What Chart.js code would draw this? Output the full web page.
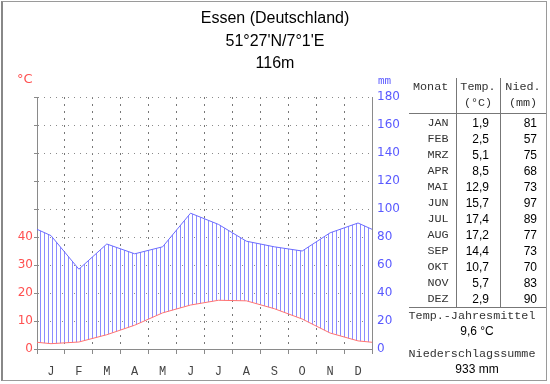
<!DOCTYPE html>
<html>
<head>
<meta charset="utf-8">
<script src="https://cdn.jsdelivr.net/npm/chart.js@4"></script>
<style>
  body { margin: 0; background: #fff; }
  #wrap { position: relative; width: 550px; height: 384px; overflow: hidden; }
  #frame { position: absolute; left: 1px; top: 1px; width: 543px; height: 378px;
           border: 1px solid #9a9a9a; border-left: 2px solid #888; }
  canvas { position: absolute; left: 0; top: 0; }
  .t { position: absolute; white-space: nowrap; line-height: 16px; }
  .title { left: 0; width: 550px; text-align: center; font: 16px "Liberation Sans", Arial, sans-serif; color: #000; line-height: 22px; }
  .mono { font: 11.75px "Liberation Mono", monospace; color: #333; }
  .num { font: 12px "Liberation Sans", Arial, sans-serif; color: #000; }
  .hl { position: absolute; height: 1px; background: #777; }
  .vl { position: absolute; width: 1px; background: #777; }
</style>
</head>
<body>
<div id="wrap">
  <div id="frame"></div>
  <canvas id="climate" width="550" height="384"></canvas>
  <div class="t title" style="top:7px">Essen (Deutschland)</div>
  <div class="t title" style="top:30px">51°27'N/7°1'E</div>
  <div class="t title" style="top:52px">116m</div>
  <div class="t" style="left:17px;top:71px;font:13px 'DejaVu Sans',sans-serif;color:#ff5050">°C</div>
  <div class="t" style="left:378px;top:75px;font:11px 'Liberation Mono',monospace;color:#5a5aff">mm</div>
  <div id="table"></div>
</div>
<script>
//Chart data
const monthLetters = ['J', 'F', 'M', 'A', 'M', 'J', 'J', 'A', 'S', 'O', 'N', 'D'];
const monthCodes = ['JAN', 'FEB', 'MRZ', 'APR', 'MAI', 'JUN', 'JUL', 'AUG', 'SEP', 'OKT', 'NOV', 'DEZ'];
const temperature = [1.9, 2.5, 5.1, 8.5, 12.9, 15.7, 17.4, 17.2, 14.4, 10.7, 5.7, 2.9];
const precipitation = [81, 57, 75, 68, 73, 97, 89, 77, 73, 70, 83, 90];
const tempTicksShown = [0, 10, 20, 30, 40];

//Month values sit in the middle of each month, wrapped round at both ends
const wrapSeries = (values) => {
  const pts = values.map((v, i) => ({x: i + 0.5, y: v}));
  return [{x: -0.5, y: values[11]}, ...pts, {x: 12.5, y: values[0]}];
};

//Vertical hatching between the two curves
const hatchCanvas = document.createElement('canvas');
hatchCanvas.width = 4;
hatchCanvas.height = 4;
const hctx = hatchCanvas.getContext('2d');
hctx.fillStyle = '#8c8cff';
hctx.fillRect(0, 0, 1, 4);
const hatch = hctx.createPattern(hatchCanvas, 'repeat');

const gridGray = '#8a8a8a';

new Chart(document.getElementById('climate'), {
  type: 'line',
  data: {
    datasets: [
      {
        label: 'Temp.',
        data: wrapSeries(temperature),
        yAxisID: 'y',
        borderColor: '#ff7272',
        borderWidth: 1,
        pointRadius: 0,
        tension: 0,
        fill: false
      },
      {
        label: 'Nied.',
        data: wrapSeries(precipitation),
        yAxisID: 'y1',
        borderColor: '#6b6bff',
        borderWidth: 1,
        pointRadius: 0,
        tension: 0,
        backgroundColor: hatch,
        fill: '-1'
      }
    ]
  },
  options: {
    responsive: false,
    animation: false,
    layout: { padding: { top: 97, left: 0, right: 0, bottom: 0 } },
    plugins: { legend: { display: false }, tooltip: { enabled: false } },
    scales: {
      //month edges: dotted grid and tick marks
      x: {
        type: 'linear',
        position: 'bottom',
        min: 0,
        max: 12,
        afterFit: (scale) => { scale.height = 0; },
        ticks: { display: false, stepSize: 1 },
        grid: {
          color: '#777',
          lineWidth: 1,
          tickColor: gridGray,
          tickBorderDash: [],
          tickLength: 5
        },
        border: { color: gridGray, width: 1, dash: [2, 5] }
      },
      //month letters in the middle of each month
      xl: {
        type: 'linear',
        position: 'bottom',
        min: 0,
        max: 12,
        afterBuildTicks: (scale) => {
          scale.ticks = monthLetters.map((m, i) => ({value: i + 0.5}));
        },
        afterFit: (scale) => { scale.height = 35; },
        ticks: {
          autoSkip: false,
          maxRotation: 0,
          padding: 8,
          color: '#444',
          font: { family: 'Liberation Mono', size: 12 },
          callback: (v) => monthLetters[Math.floor(v)]
        },
        grid: { display: false },
        border: { display: false }
      },
      y: {
        position: 'left',
        min: 0,
        max: 90,
        afterFit: (scale) => { scale.width = 37; },
        ticks: {
          stepSize: 10,
          padding: 1,
          color: '#ff5050',
          font: { family: 'DejaVu Sans', size: 12 },
          callback: (v) => (tempTicksShown.includes(v) ? v : '')
        },
        grid: {
          color: gridGray,
          tickBorderDash: [],
          tickLength: 3
        },
        border: { color: gridGray, width: 1, dash: [1, 5] }
      },
      y1: {
        position: 'right',
        min: 0,
        max: 180,
        afterFit: (scale) => { scale.width = 178; },
        ticks: {
          stepSize: 20,
          padding: 5,
          color: '#5a5aff',
          font: { family: 'DejaVu Sans', size: 12 }
        },
        grid: { drawOnChartArea: false, drawTicks: false },
        border: { color: gridGray, width: 1 }
      }
    }
  }
});

//Table on the right
const table = document.getElementById('table');
const put = (html, cls, style) => {
  const d = document.createElement('div');
  d.className = cls;
  d.setAttribute('style', style);
  d.innerHTML = html;
  table.appendChild(d);
};
const fmt = (v) => v.toFixed(1).replace('.', ',');

put('Monat', 't mono', 'left:413px;top:80px');
put('Temp.', 't mono', 'left:456px;width:44px;text-align:center;top:80px');
put('(°C)', 't mono', 'left:456px;width:44px;text-align:center;top:96px');
put('Nied.', 't mono', 'left:500px;width:46px;text-align:center;top:80px');
put('(mm)', 't mono', 'left:500px;width:46px;text-align:center;top:96px');
put('', 'hl', 'left:409px;width:137px;top:113px');
put('', 'vl', 'left:456px;height:229px;top:78px');
put('', 'vl', 'left:500px;height:229px;top:78px');

monthCodes.forEach((m, i) => {
  const top = 116 + i * 16;
  put(m, 't mono', `left:416px;width:44px;text-align:center;top:${top}px`);
  put(fmt(temperature[i]), 't num', `left:440px;width:49px;text-align:right;top:${top}px`);
  put(String(precipitation[i]), 't num', `left:490px;width:47px;text-align:right;top:${top}px`);
});

put('', 'hl', 'left:409px;width:137px;top:307px');
const meanTemp = temperature.reduce((a, b) => a + b, 0) / temperature.length;
const totalPrecip = precipitation.reduce((a, b) => a + b, 0);
put('Temp.-Jahresmittel', 't mono', 'left:405px;width:134px;text-align:center;top:309px');
put(fmt(meanTemp) + ' °C', 't num', 'left:405px;width:144px;text-align:center;top:324px');
put('Niederschlagssumme', 't mono', 'left:405px;width:134px;text-align:center;top:347px');
put(totalPrecip + ' mm', 't num', 'left:405px;width:144px;text-align:center;top:362px');
</script>
</body>
</html>
